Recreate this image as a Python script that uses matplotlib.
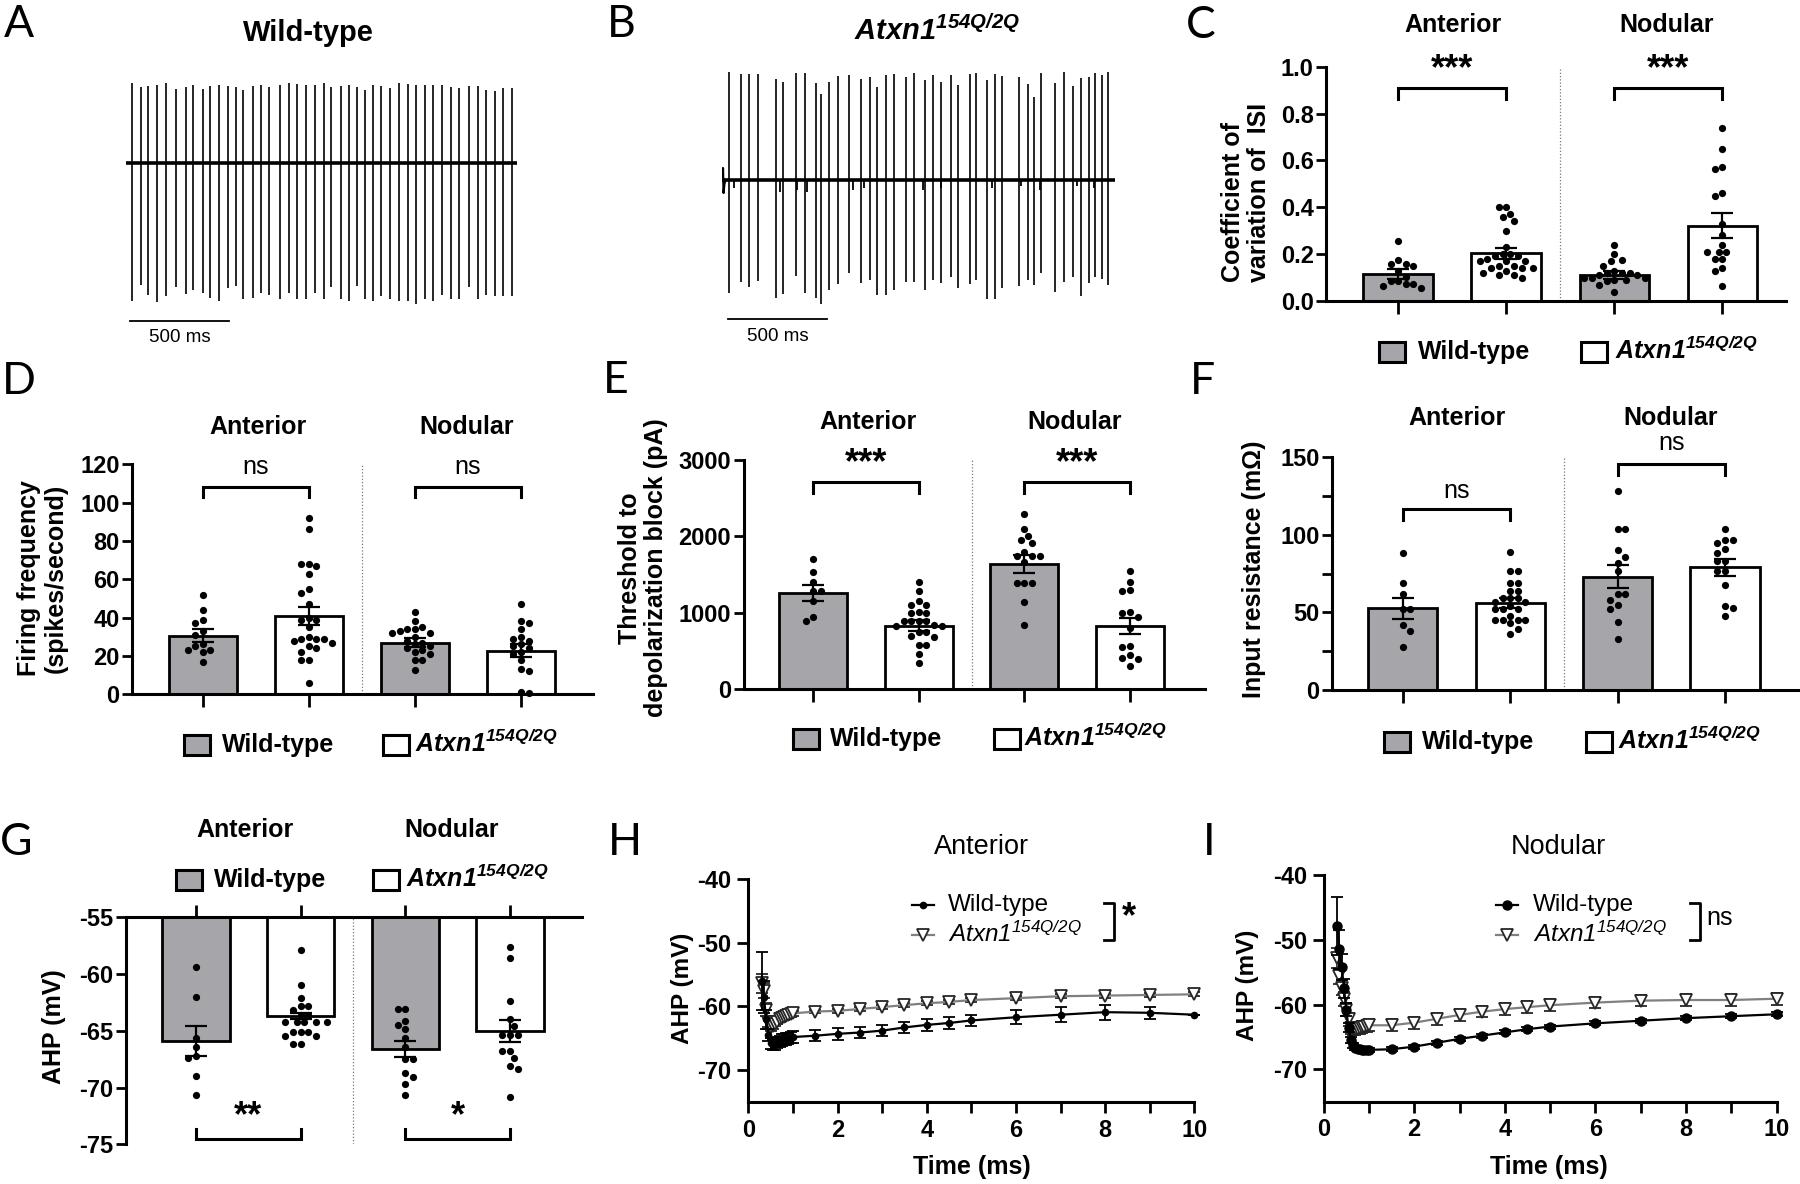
import numpy as np
import matplotlib
matplotlib.use("Agg")
import matplotlib.pyplot as plt
from matplotlib.patches import Rectangle
from matplotlib.lines import Line2D

# ======================= DATA =======================
regions = ["Anterior", "Nodular"]
genotypes = ["Wild-type", "Atxn1 154Q/2Q"]

# Panel A (wild-type trace): spike times (ms), upward / downward amplitudes (a.u.)
a_spike_t = [29, 72, 112, 153, 200, 254, 300, 337, 388, 426, 471, 514, 554, 593, 643,
             684, 725, 779, 822, 866, 911, 957, 1002, 1039, 1085, 1130, 1167, 1207, 1250,
             1291, 1337, 1382, 1426, 1469, 1513, 1556, 1599, 1643, 1686, 1736, 1779, 1822,
             1870, 1907, 1954]
a_spike_up = [80, 76, 77, 78, 80, 74, 76, 78, 74, 77, 78, 77, 76, 73, 77, 78, 76, 78, 80,
              79, 78, 78, 80, 76, 77, 78, 76, 73, 78, 77, 75, 80, 79, 78, 78, 78, 78, 76, 75,
              77, 77, 73, 72, 75, 75]
a_spike_down = [138, 122, 132, 139, 133, 124, 131, 127, 130, 135, 138, 125, 123, 136, 135,
                130, 132, 136, 130, 136, 136, 130, 136, 124, 136, 138, 123, 136, 138, 133,
                136, 138, 138, 141, 136, 138, 132, 136, 136, 124, 136, 132, 133, 133, 133]
a_duration = 1977

# Panel B (Atxn1 trace)
b_spike_t = [35, 93, 136, 179, 272, 307, 375, 420, 473, 502, 541, 588, 644, 706, 751, 784,
             833, 871, 934, 973, 1027, 1072, 1113, 1162, 1199, 1258, 1288, 1346, 1387, 1420,
             1509, 1552, 1585, 1620, 1692, 1735, 1780, 1821, 1860, 1891, 1926, 1961]
b_spike_up = [108, 106, 106, 106, 101, 98, 107, 107, 97, 86, 98, 104, 105, 101, 103, 93, 105,
              106, 103, 107, 100, 105, 98, 105, 95, 106, 107, 100, 106, 104, 103, 96, 83, 107,
              97, 108, 94, 102, 103, 107, 105, 108]
b_spike_down = [113, 102, 107, 101, 118, 114, 96, 113, 118, 124, 110, 104, 93, 103, 100, 115,
                115, 110, 102, 102, 110, 100, 103, 97, 108, 104, 100, 119, 119, 108, 106, 100,
                105, 93, 112, 102, 97, 116, 103, 97, 99, 105]
b_blip_t = [58, 292, 379, 428, 661, 720, 1021, 1109, 1371, 1517, 1614, 1799, 1887]
b_blip_depth = [8, 12, 10, 12, 10, 8, 10, 8, 8, 6, 10, 6, 8]
b_artifact_t = [0, 3, 6, 10, 16]
b_artifact_v = [0, 12, -13, -4, 0]
b_duration = 1993

# Panel C: coefficient of variation of ISI (order: WT ant, Mut ant, WT nod, Mut nod)
cv_means = [0.114, 0.203, 0.111, 0.322]
cv_sems = [0.021, 0.022, 0.015, 0.052]
cv_wt_ant = [0.256, 0.175, 0.16, 0.156, 0.15, 0.13, 0.104, 0.085, 0.085, 0.071, 0.071, 0.065, 0.057]
cv_mut_ant = [0.40, 0.40, 0.37, 0.36, 0.34, 0.30, 0.23, 0.20, 0.20, 0.19, 0.19, 0.18, 0.17,
              0.17, 0.17, 0.15, 0.15, 0.14, 0.14, 0.14, 0.13, 0.12, 0.11, 0.11, 0.10]
cv_wt_nod = [0.24, 0.20, 0.175, 0.17, 0.15, 0.13, 0.12, 0.12, 0.12, 0.11, 0.11, 0.10, 0.10,
             0.10, 0.09, 0.09, 0.085, 0.07, 0.04]
cv_mut_nod = [0.74, 0.65, 0.57, 0.565, 0.46, 0.45, 0.33, 0.28, 0.24, 0.21, 0.21, 0.21, 0.18,
              0.18, 0.14, 0.13, 0.065]

# Panel D: firing frequency (spikes/s)
ff_means = [30.6, 41.0, 27.0, 22.8]
ff_sems = [3.3, 4.6, 2.2, 3.4]
ff_wt_ant = [52, 44, 39, 37, 33, 31, 26, 25, 23, 23, 22, 17]
ff_mut_ant = [92, 86, 68, 68, 67, 63, 55, 53, 47, 40, 39, 39, 35, 30, 29, 29, 29, 28, 27, 25,
              24, 22, 18, 18, 6]
ff_wt_nod = [43, 38, 35, 34, 34, 33, 32, 32, 30, 28, 27, 26, 25, 24, 23, 22, 21, 18, 18, 12.5]
ff_mut_nod = [47, 38, 37, 34, 30, 29, 28, 26, 25, 24, 22, 21, 18, 13, 12, 1, 0.5]

# Panel E: threshold to depolarization block (pA)
th_means = [1256, 833, 1640, 829]
th_sems = [105, 72, 115, 110]
th_wt_ant = [1700, 1540, 1400, 1290, 1290, 1160, 940, 900]
th_mut_ant = [1400, 1290, 1150, 1100, 1100, 1010, 1000, 1000, 900, 900, 900, 900, 840, 830,
              830, 750, 750, 700, 690, 580, 580, 460, 340]
th_wt_nod = [2290, 2100, 2010, 1950, 1920, 1790, 1750, 1750, 1750, 1660, 1390, 1390, 1390,
             1140, 840]
th_mut_nod = [1550, 1400, 1300, 1290, 1010, 1000, 940, 800, 560, 550, 450, 410, 400, 300]

# Panel F: input resistance
ir_means = [52.6, 56.3, 73.0, 79.1]
ir_sems = [7.0, 3.3, 7.5, 5.3]
ir_wt_ant = [88, 69, 62, 52, 52, 42, 38, 28]
ir_mut_ant = [89, 77, 77, 69, 69, 64, 64, 59, 59, 59, 57, 57, 54, 52, 52, 52, 48, 45, 45, 45,
              45, 43, 39, 36]
ir_wt_nod = [128, 104, 104, 90, 86, 82, 77, 62, 62, 58, 55, 52, 44, 33]
ir_mut_nod = [104, 97, 97, 95, 91, 88, 83, 83, 77, 77, 68, 54, 53, 48]

# Panel G: AHP (mV)
ahp_means = [-65.9, -63.7, -66.6, -65.0]
ahp_sems = [1.3, 0.3, 0.7, 0.95]
ahp_wt_ant = [-59.4, -62.0, -65.6, -66.4, -67.2, -67.4, -69.0, -70.7]
ahp_mut_ant = [-57.9, -61.0, -62.1, -62.8, -62.8, -63.2, -63.6, -63.6, -64.2, -64.2, -64.2,
               -64.2, -64.2, -65.1, -65.1, -65.1, -65.5, -65.5, -66.2, -66.2]
ahp_wt_nod = [-63.1, -63.1, -64.1, -64.5, -64.8, -65.6, -66.4, -67.5, -67.5, -68.7, -69.1,
              -69.7, -70.7]
ahp_mut_nod = [-57.6, -58.6, -62.4, -64.0, -64.6, -65.4, -65.4, -65.4, -66.8, -66.8, -67.4,
               -68.1, -68.4, -70.8]

# Panels H / I: AHP time course
t_ms = [0.3, 0.35, 0.4, 0.45, 0.5, 0.55, 0.6, 0.65, 0.7, 0.75, 0.8, 0.85, 0.9, 0.95, 1.0,
        1.5, 2.0, 2.5, 3.0, 3.5, 4.0, 4.5, 5.0, 6.0, 7.0, 8.0, 9.0, 10.0]
h_wt = [-56.0, -58.5, -62.0, -64.5, -65.8, -66.0, -65.9, -65.7, -65.5, -65.3, -65.2, -65.1,
        -65.0, -64.9, -64.8, -64.6, -64.3, -64.1, -63.8, -63.3, -62.9, -62.6, -62.2, -61.7,
        -61.3, -60.9, -61.0, -61.3]
h_wt_err = [4.6, 2.5, 1.5, 1.0, 0.9, 0.9, 0.9, 0.9, 0.9, 0.9, 0.9, 0.9, 0.9, 0.9, 0.9, 0.9,
            0.9, 0.9, 0.9, 0.9, 0.9, 0.9, 0.9, 1.1, 1.2, 1.2, 0.9, 0.0]
h_mut = [-56.4, -57.5, -60.5, -62.5, -63.3, -63.0, -62.7, -62.4, -62.0, -61.8, -61.7, -61.5,
         -61.4, -61.2, -61.1, -60.8, -60.7, -60.4, -60.1, -59.8, -59.5, -59.3, -59.0, -58.7,
         -58.4, -58.3, -58.2, -58.1]
h_mut_err = [1.5, 1.2, 1.0, 0.8, 0.6, 0.5, 0.4, 0.4, 0.4, 0.4, 0.4, 0.4, 0.4, 0.4, 0.4, 0.3,
             0.3, 0.3, 0.3, 0.3, 0.3, 0.3, 0.3, 0.3, 0.3, 0.3, 0.3, 0.3]
i_wt = [-47.9, -51.5, -54.2, -57.5, -60.8, -63.6, -65.5, -66.3, -66.7, -66.8, -66.9, -67.0,
        -67.0, -67.0, -67.0, -66.9, -66.5, -65.9, -65.3, -64.8, -64.3, -63.8, -63.4, -62.9,
        -62.5, -62.1, -61.8, -61.5]
i_wt_err = [4.5, 3.0, 2.0, 1.5, 1.0, 0.7, 0.5, 0.4, 0.3, 0.3, 0.3, 0.3, 0.3, 0.3, 0.3, 0.3,
            0.3, 0.3, 0.3, 0.3, 0.3, 0.3, 0.3, 0.3, 0.3, 0.3, 0.3, 0.3]
i_mut = [-52.8, -55.6, -57.4, -59.2, -60.8, -62.3, -63.6, -63.8, -63.8, -63.7, -63.6, -63.5,
         -63.4, -63.3, -63.2, -63.2, -62.8, -62.2, -61.6, -61.1, -60.7, -60.4, -60.1, -59.7,
         -59.4, -59.3, -59.3, -59.1]
i_mut_err = [1.5, 1.3, 1.2, 1.1, 1.0, 1.0, 0.9, 0.9, 0.9, 0.9, 0.9, 0.9, 0.9, 0.9, 0.9, 0.9,
             0.9, 0.9, 0.9, 0.9, 0.9, 0.9, 0.9, 0.9, 0.9, 0.9, 0.9, 0.9]

# ======================= STYLE =======================
W, H = 1800, 1184
plt.rcParams['font.family'] = ['Liberation Sans', 'DejaVu Sans']
plt.rcParams['axes.unicode_minus'] = False
plt.rcParams['mathtext.fontset'] = 'custom'
plt.rcParams['mathtext.it'] = 'Liberation Sans:italic:bold'
plt.rcParams['mathtext.rm'] = 'Liberation Sans:italic:bold'
plt.rcParams['mathtext.sf'] = 'Liberation Sans:italic'
plt.rcParams['mathtext.bf'] = 'Liberation Sans:bold'

GRAY = '#a6a5aa'
MUT_BOLD = r'$\mathit{Atxn1^{154Q/2Q}}$'
MUT_REG = r'$\mathsf{Atxn1^{154Q/2Q}}$'
SP_LW = 2.2

fig = plt.figure(figsize=(W / 100, H / 100), dpi=100)


def fy(y):
    return 1 - y / H


def ax_px(x0, y0, x1, y1):
    return fig.add_axes([x0 / W, 1 - y1 / H, (x1 - x0) / W, (y1 - y0) / H])


def ftext(x, y, s, **kw):
    return fig.text(x / W, fy(y), s, **kw)


def swarm_offsets(vals, pxx, pxy, d=7.6):
    vals = np.asarray(vals, float)
    order = np.argsort(-vals, kind='stable')
    placed = []
    offs = np.zeros(len(vals))
    step = d * 0.5
    for n, i in enumerate(order):
        yp = vals[i] * pxy
        k = 0
        while True:
            if k == 0:
                cands = [0.0]
            else:
                cands = [k * step, -k * step] if n % 2 == 0 else [-k * step, k * step]
            ok = False
            for c in cands:
                if all((c - px) ** 2 + (yp - py) ** 2 >= d * d for px, py in placed):
                    offs[i] = c
                    placed.append((c, yp))
                    ok = True
                    break
            if ok:
                break
            k += 1
    return offs / pxx


def bar_panel(ax, means, sems, pts, xlim, ylim, yticks, yticklabels, pxx, pxy,
              base=0.0, top=False, minor=None):
    xs = np.arange(4)
    cols = [GRAY, 'white', GRAY, 'white']
    ax.bar(xs, [m - base for m in means], bottom=base, width=0.645, color=cols,
           edgecolor='black', linewidth=2.0, zorder=2)
    for i, p in enumerate(pts):
        off = swarm_offsets(p, pxx, pxy)
        ax.plot(xs[i] + off, p, 'o', color='black', ms=5.2, mew=0, zorder=3, clip_on=False)
    ax.errorbar(xs, means, yerr=sems, fmt='none', ecolor='black', elinewidth=1.6,
                capsize=8, capthick=1.6, zorder=4)
    ax.set_xlim(*xlim)
    ax.set_ylim(*ylim)
    ax.plot([1.5, 1.5], ylim, ls=(0, (1, 1.6)), color='#7a7a7a', lw=0.9, zorder=1)
    for s in ['top', 'right', 'bottom', 'left']:
        ax.spines[s].set_visible(False)
    ax.spines['left'].set_visible(True)
    ax.spines['left'].set_linewidth(SP_LW)
    if top:
        ax.spines['top'].set_visible(True)
        ax.spines['top'].set_linewidth(SP_LW)
        ax.xaxis.set_ticks_position('top')
    else:
        ax.spines['bottom'].set_visible(True)
        ax.spines['bottom'].set_linewidth(SP_LW)
    ax.set_xticks(xs)
    ax.set_xticklabels([])
    ax.set_yticks(yticks)
    ax.set_yticklabels(yticklabels, fontsize=17, fontweight='bold')
    if minor is not None:
        ax.set_yticks(minor, minor=True)
    ax.tick_params(axis='x', direction='out', length=9, width=2.0)
    ax.tick_params(axis='y', which='both', direction='out', length=7, width=2.0, pad=2)
    ax.patch.set_alpha(0)


def bracket(ax, x0, x1, y, yleg, text, ty, fs=26, bold=True):
    ax.plot([x0, x0, x1, x1], [yleg, y, y, yleg], color='black', lw=2.2, clip_on=False,
            solid_joinstyle='miter', zorder=5)
    ax.text((x0 + x1) / 2, ty, text, ha='center', va='center', fontsize=fs,
            fontweight='bold' if bold else 'normal', clip_on=False)


def bar_legend(y, wt_box, wt_text, mut_box, mut_text, fs=18):
    bw, bh = 26, 20
    for bx, col in [(wt_box, GRAY), (mut_box, 'white')]:
        fig.add_artist(Rectangle((bx / W, fy(y + bh / 2)), bw / W, bh / H,
                                 transform=fig.transFigure, facecolor=col,
                                 edgecolor='black', lw=2.2))
    ftext(wt_text, y + 7, 'Wild-type', fontsize=fs, fontweight='bold', va='baseline', ha='left')
    ftext(mut_text, y + 7, MUT_BOLD, fontsize=fs, va='baseline', ha='left')


def header(x, y, s, fs=18):
    ftext(x, y, s, fontsize=fs, fontweight='bold', ha='center', va='center')


def ylab(x, y, s, fs=18, align='center'):
    ftext(x, y, s, fontsize=fs, fontweight='bold', rotation=90, ha='center', va='center',
          multialignment=align, linespacing=1.15)


def letter(x, ybase, s):
    ftext(x, ybase, s, fontsize=32, family=['Lato', 'DejaVu Sans'], ha='left', va='baseline')


# ======================= PANELS A / B =======================
axA = ax_px(126.3, 70, 516.6, 350)
axA.set_xlim(0, a_duration)
axA.set_ylim(-186.7, 93.3)
axA.axis('off')
axA.plot([0, a_duration], [0, 0], color='black', lw=2.6, solid_capstyle='round')
axA.vlines(a_spike_t, -np.asarray(a_spike_down), a_spike_up, color='black', lw=1.2)
axA.plot([19, 519], [-157.7, -157.7], color='black', lw=1.3)
axA.text(269, -174.7, '500 ms', ha='center', va='center', fontsize=13.5)
ftext(308, 41, 'Wild-type', fontsize=21, fontweight='bold', ha='center', va='baseline')

axB = ax_px(722.4, 60, 1114.7, 350)
axB.set_xlim(0, b_duration)
axB.set_ylim(-170, 120)
axB.axis('off')
axB.plot([0, b_duration], [0, 0], color='black', lw=2.6, solid_capstyle='round')
axB.plot(b_artifact_t, b_artifact_v, color='black', lw=1.6)
axB.vlines(b_blip_t, -np.asarray(b_blip_depth), 0, color='black', lw=1.3)
axB.vlines(b_spike_t, -np.asarray(b_spike_down), b_spike_up, color='black', lw=1.2)
axB.plot([29.5, 529.5], [-139, -139], color='black', lw=1.3)
axB.text(279.5, -156.7, '500 ms', ha='center', va='center', fontsize=13.5)
ftext(936.7, 40, MUT_BOLD, fontsize=21, ha='center', va='baseline')

# ======================= PANEL C =======================
axC = ax_px(1326.3, 66.7, 1785.5, 301)
bar_panel(axC, cv_means, cv_sems, [cv_wt_ant, cv_mut_ant, cv_wt_nod, cv_mut_nod],
          (-0.666, 3.584), (0, 1.0), [0, 0.2, 0.4, 0.6, 0.8, 1.0],
          ['0.0', '0.2', '0.4', '0.6', '0.8', '1.0'], 108.0, 234.3)
bracket(axC, 0, 1, 0.909, 0.862, '***', 0.986)
bracket(axC, 2, 3, 0.909, 0.862, '***', 0.986)
header(1453.3, 25, regions[0])
header(1666.8, 25, regions[1])
bar_legend(352, 1379, 1418, 1580.7, 1615.2)
ylab(1246, 192, 'Coefficient of\nvariation of  ISI', align='left')

# ======================= PANEL D =======================
axD = ax_px(132, 464.3, 593.1, 694.3)
bar_panel(axD, ff_means, ff_sems, [ff_wt_ant, ff_mut_ant, ff_wt_nod, ff_mut_nod],
          (-0.667, 3.68), (0, 120), list(range(0, 121, 20)),
          [str(v) for v in range(0, 121, 20)], 106.1, 1.917)
bracket(axD, 0, 1, 108.1, 102.9, 'ns', 118.4, fs=18, bold=False)
bracket(axD, 2, 3, 108.1, 102.9, 'ns', 118.4, fs=18, bold=False)
header(258.3, 426.7, regions[0])
header(466.8, 426.7, regions[1])
bar_legend(745, 183.7, 222, 382.7, 415.2)
ylab(42, 578, 'Firing frequency\n(spikes/second)')

# ======================= PANEL E =======================
axE = ax_px(743.5, 460, 1205, 689.3)
bar_panel(axE, th_means, th_sems, [th_wt_ant, th_mut_ant, th_wt_nod, th_mut_nod],
          (-0.66, 3.71), (0, 3000), [0, 1000, 2000, 3000],
          ['0', '1000', '2000', '3000'], 105.6, 0.0764)
bracket(axE, 0, 1, 2713, 2573, '***', 2958)
bracket(axE, 2, 3, 2713, 2573, '***', 2958)
header(867.9, 421.7, regions[0])
header(1074.5, 421.7, regions[1])
bar_legend(739.3, 793.2, 829.6, 994.1, 1024)
ylab(643, 568, 'Threshold to\ndepolarization block (pA)')

# ======================= PANEL F =======================
axF = ax_px(1332, 457.3, 1798, 690)
bar_panel(axF, ir_means, ir_sems, [ir_wt_ant, ir_mut_ant, ir_wt_nod, ir_mut_nod],
          (-0.66, 3.68), (0, 150), [0, 50, 100, 150], ['0', '50', '100', '150'],
          107.4, 1.551, minor=[25, 75, 125])
bracket(axF, 0, 1, 116.7, 109.6, 'ns', 128.5, fs=18, bold=False)
bracket(axF, 2, 3, 145.5, 138.6, 'ns', 159, fs=18, bold=False)
header(1457.1, 418.3, regions[0])
header(1670.7, 418.3, regions[1])
bar_legend(741.7, 1383.7, 1421.9, 1585.7, 1617.9)
ylab(1253.6, 569, 'Input resistance (mΩ)')

# ======================= PANEL G =======================
axG = ax_px(125.5, 917.3, 581.6, 1144.3)
bar_panel(axG, ahp_means, ahp_sems, [ahp_wt_ant, ahp_mut_ant, ahp_wt_nod, ahp_mut_nod],
          (-0.672, 3.683), (-75, -55), [-75, -70, -65, -60, -55],
          ['-75', '-70', '-65', '-60', '-55'], 104.7, 11.35, base=-55, top=True)
bracket(axG, 0, 1, -74.56, -73.68, '**', -72.6)
bracket(axG, 2, 3, -74.56, -73.68, '*', -72.6)
header(244.9, 830, regions[0])
header(451.5, 830, regions[1])
bar_legend(880, 176, 214.3, 373.1, 405.6)
ylab(53.6, 1027, 'AHP (mV)')


# ======================= PANELS H / I =======================
def ahp_panel(ax, wt, wt_err, mut, mut_err, wt_ms):
    ax.errorbar(t_ms, mut, yerr=mut_err, color='#808080', lw=1.6, marker='v', ms=8,
                mfc='white', mec='#262626', mew=1.3, ecolor='#262626', elinewidth=1.3,
                capsize=4, capthick=1.3, zorder=3, clip_on=False)
    ax.errorbar(t_ms, wt, yerr=wt_err, color='black', lw=1.6, marker='o', ms=wt_ms,
                mfc='black', mec='black', ecolor='black', elinewidth=1.3, capsize=4,
                capthick=1.3, zorder=4, clip_on=False)
    ax.set_xlim(0, 10)
    ax.set_ylim(-75, -40)
    for s in ['top', 'right']:
        ax.spines[s].set_visible(False)
    for s in ['left', 'bottom']:
        ax.spines[s].set_linewidth(SP_LW)
    ax.set_xticks(range(0, 11, 2))
    ax.set_xticklabels([str(v) for v in range(0, 11, 2)], fontsize=17, fontweight='bold')
    ax.set_xticks(range(1, 10, 2), minor=True)
    ax.set_yticks([-70, -60, -50, -40])
    ax.set_yticklabels(['-70', '-60', '-50', '-40'], fontsize=17, fontweight='bold')
    ax.tick_params(which='both', direction='out', length=8, width=2.0, pad=4)
    ax.patch.set_alpha(0)


def line_legend(x0, x1, xt, y1, y2, wt_ms, sig_x0, sig_x1, sig_text, sig_tx, bold_sig):
    xm = (x0 + x1) / 2
    fig.add_artist(Line2D([x0 / W, x1 / W], [fy(y1)] * 2, transform=fig.transFigure,
                          color='black', lw=1.6))
    fig.add_artist(Line2D([xm / W], [fy(y1)], transform=fig.transFigure, marker='o',
                          ms=wt_ms, color='black'))
    fig.add_artist(Line2D([x0 / W, x1 / W], [fy(y2)] * 2, transform=fig.transFigure,
                          color='#808080', lw=1.6))
    fig.add_artist(Line2D([xm / W], [fy(y2)], transform=fig.transFigure, marker='v',
                          ms=8, mfc='white', mec='#262626', mew=1.3, color='#808080'))
    ftext(xt, y1, 'Wild-type', fontsize=17.5, ha='left', va='center')
    ftext(xt, y2 + 7, MUT_REG, fontsize=17.5, ha='left', va='baseline')
    fig.add_artist(Line2D([sig_x0 / W, sig_x1 / W, sig_x1 / W, sig_x0 / W],
                          [fy(y1 - 2), fy(y1 - 2), fy(y2 + 5), fy(y2 + 5)],
                          transform=fig.transFigure, color='black', lw=2.0))
    ftext(sig_tx, (y1 + y2) / 2 - 2, sig_text, fontsize=26 if bold_sig else 18,
          fontweight='bold' if bold_sig else 'normal', ha='left', va='center')


axH = ax_px(748.3, 879, 1194.3, 1102)
ahp_panel(axH, h_wt, h_wt_err, h_mut, h_mut_err, 4.5)
ftext(981.6, 847, regions[0], fontsize=19.5, ha='center', va='center')
ylab(683, 988, 'AHP (mV)', fs=17.5)
ftext(971.7, 1167, 'Time (ms)', fontsize=18, fontweight='bold', ha='center', va='center')
line_legend(912.4, 934.1, 948, 905, 935, 4.5, 1104, 1114, '*', 1122, True)

axI = ax_px(1323.6, 875, 1776.7, 1101.7)
ahp_panel(axI, i_wt, i_wt_err, i_mut, i_mut_err, 6.5)
ftext(1558.5, 847, regions[1], fontsize=19.5, ha='center', va='center')
ylab(1247.7, 985, 'AHP (mV)', fs=17.5)
ftext(1549.2, 1167, 'Time (ms)', fontsize=18, fontweight='bold', ha='center', va='center')
line_legend(1495.6, 1517.8, 1532.6, 905, 935, 6.5, 1690, 1700, 'ns', 1706, False)

# ======================= PANEL LETTERS =======================
letter(4, 37, 'A')
letter(607, 37, 'B')
letter(1186, 38, 'C')
letter(2, 394, 'D')
letter(603, 393, 'E')
letter(1190, 394, 'F')
letter(0, 855, 'G')
letter(608, 855, 'H')
letter(1203, 855, 'I')

fig.savefig('out.png', dpi=100)
